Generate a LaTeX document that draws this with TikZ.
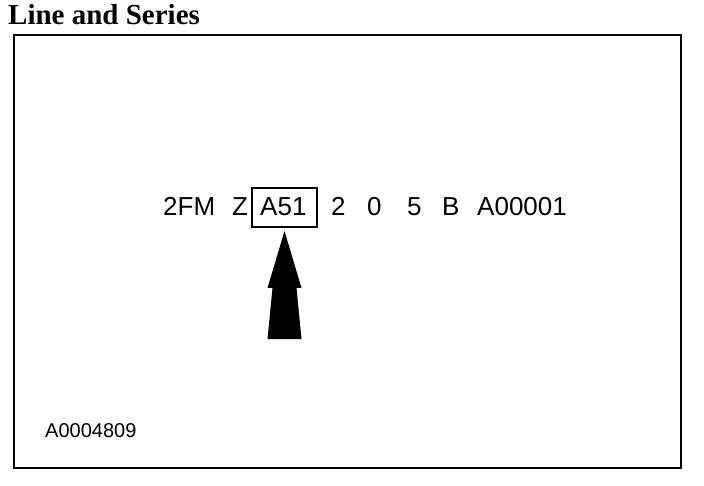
\documentclass[tikz,border=0pt]{standalone}
\usepackage{fontspec}
\setmainfont{Liberation Sans}
\newfontfamily\titlefont{Liberation Serif}
\begin{document}
\begin{tikzpicture}[x=1pt,y=-1pt,
  tok/.style={anchor=base west,inner sep=0pt,font=\fontsize{26}{26}\selectfont},
  frame/.style={draw=black,line width=2pt}]
\useasboundingbox (0,0) rectangle (704,486);
\node[anchor=base west,inner sep=0pt,font=\titlefont\bfseries\fontsize{29}{29}\selectfont] (title) at (8,25) {Line and Series};
\draw[frame] (14,35) rectangle (681,468);
\node[tok] (t1) at (163,216) {2FM};
\node[tok] (t2) at (232,216) {Z};
\node[tok] (t3) at (260,216) {A51};
\node[draw=black,line width=2pt,inner sep=0pt,minimum width=65pt,minimum height=39pt] (box) at (284.5,207.5) {};
\node[tok] (t4) at (331,216) {2};
\node[tok] (t5) at (367,216) {0};
\node[tok] (t6) at (407,216) {5};
\node[tok] (t7) at (442,216) {B};
\node[tok] (t8) at (477,216) {A00001};
\node[anchor=base west,inner sep=0pt,font=\fontsize{20}{20}\selectfont] (code) at (45,437) {A0004809};
\coordinate (tip) at ([yshift=-3pt]box.south);
\fill (tip) -- ++(17,57) -- ++(-5,0) -- ++(5,51) -- ++(-34,0) -- ++(5,-51) -- ++(-5,0) -- cycle;
\end{tikzpicture}
\end{document}
